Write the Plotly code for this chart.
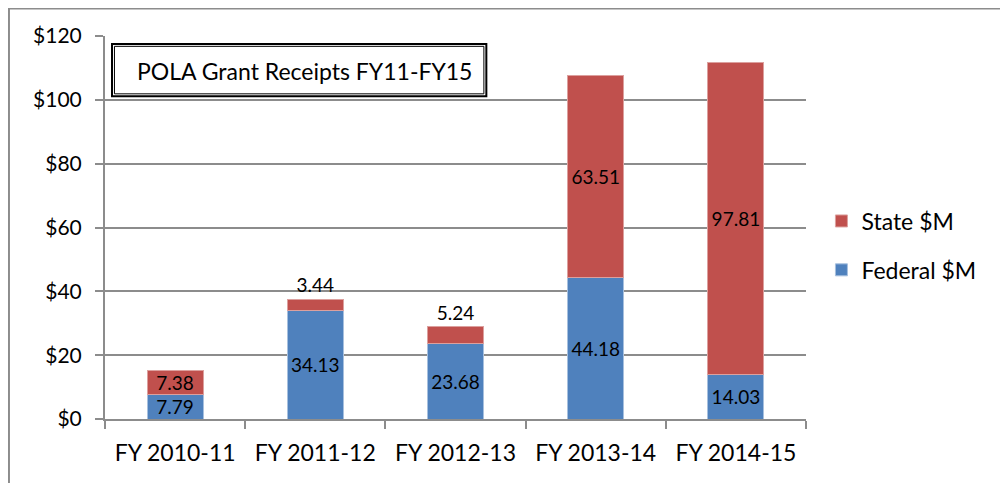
import plotly.graph_objects as go

years = ["FY 2010-11", "FY 2011-12", "FY 2012-13", "FY 2013-14", "FY 2014-15"]
federal = [7.79, 34.13, 23.68, 44.18, 14.03]
state = [7.38, 3.44, 5.24, 63.51, 97.81]
state_label_pos = ["inside", "outside", "outside", "inside", "inside"]

FONT = "Lato, 'Open Sans', sans-serif"
BLUE = "#4F81BD"
RED = "#C0504D"
GRID = "#8C8C8C"

fig = go.Figure()
fig.add_trace(go.Bar(
    x=years, y=federal, name="Federal $M", marker=dict(color=BLUE, line=dict(color="#A7C0DE", width=1)),
    text=[f"{v:.2f}" for v in federal], textposition="inside", insidetextanchor="middle",
    textfont=dict(color="black", size=19, family=FONT), legendgroup="f", legendrank=2,
))
fig.add_trace(go.Bar(
    x=years, y=state, name="State $M", marker=dict(color=RED, line=dict(color="#DCA09E", width=1)),
    text=[f"{v:.2f}" for v in state], textposition=state_label_pos, insidetextanchor="middle",
    textfont=dict(color="black", size=19, family=FONT), legendgroup="s", legendrank=1,
))
fig.update_traces(constraintext="none", cliponaxis=False)

# chart frame (left and top edges visible)
fig.add_shape(type="rect", xref="paper", yref="paper", x0=-0.137, x1=1.5, y0=-0.5, y1=1.072,
              line=dict(color=GRID, width=2), layer="below")
# title box with double border
fig.add_shape(type="rect", xref="paper", yref="paper", x0=0.010, x1=0.544, y0=0.843, y1=0.979,
              line=dict(color="black", width=2), fillcolor="white")
fig.add_shape(type="rect", xref="paper", yref="paper", x0=0.0135, x1=0.5405, y0=0.849, y1=0.973,
              line=dict(color="black", width=1))
fig.add_annotation(text="POLA Grant Receipts FY11-FY15", xref="paper", yref="paper", x=0.043, y=0.909,
                   xanchor="left", yanchor="middle", showarrow=False,
                   font=dict(family=FONT, size=23, color="black"))

fig.update_layout(
    width=1000, height=475, barmode="stack", bargap=0.6,
    paper_bgcolor="white", plot_bgcolor="white",
    margin=dict(l=97, r=202, t=28, b=64),
    font=dict(family=FONT, color="black"),
    legend=dict(x=1.022, y=0.453, xanchor="left", yanchor="middle", traceorder="grouped",
                tracegroupgap=16, font=dict(size=23, family=FONT), itemwidth=30),
    xaxis=dict(showline=True, linecolor=GRID, linewidth=2, ticks="outside", tickson="boundaries",
               ticklen=8, tickcolor=GRID, tickwidth=2, tickfont=dict(size=23, family=FONT),
               ticklabelstandoff=12),
    yaxis=dict(range=[0, 120], dtick=20, tickprefix="$", showline=True, linecolor=GRID, linewidth=2,
               showgrid=True, gridcolor=GRID, gridwidth=1.5, ticks="outside", ticklen=8, tickcolor=GRID,
               tickwidth=2, tickfont=dict(size=21, family=FONT), zeroline=False, ticklabelstandoff=9),
)

fig.write_html("out.html")
